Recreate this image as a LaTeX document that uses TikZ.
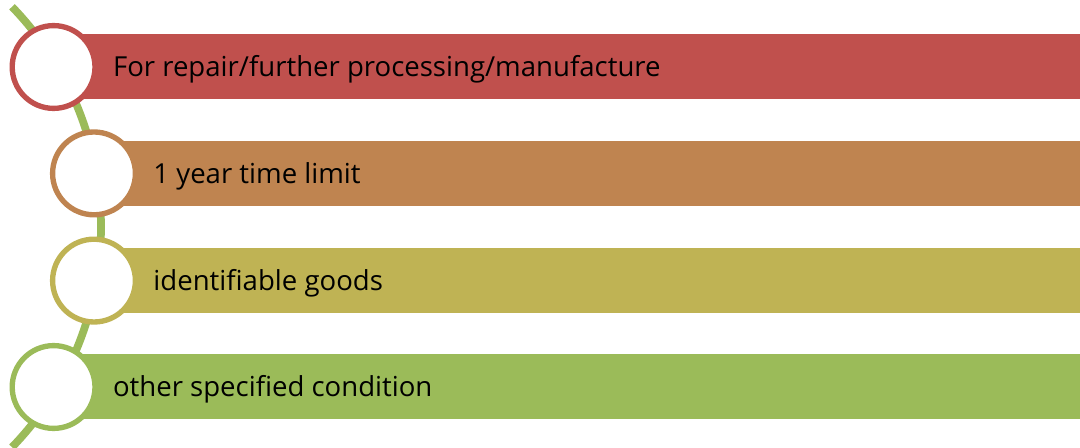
\documentclass[tikz,border=0pt]{standalone}
\usepackage{fontspec}
\setmainfont{Open Sans}
\usepackage{tikz}

\definecolor{redc}{RGB}{192,80,77}
\definecolor{orangec}{RGB}{191,132,80}
\definecolor{olivec}{RGB}{191,179,84}
\definecolor{greenc}{RGB}{155,187,89}

\begin{document}
\begin{tikzpicture}[
            band/.style={rectangle, minimum height=1.625cm, inner sep=0pt, anchor=west}, % coloured bar behind each item
            stage/.style={circle, draw, fill=white, line width=3.8pt, minimum size=2.07cm, inner sep=0pt}, % white circle on the line
            label/.style={anchor=base west, inner sep=0pt, font=\fontsize{19.6}{23}\selectfont} % item text
            ]

        \useasboundingbox (0,0) rectangle (27,11.175);
        \clip (0,0) rectangle (27,11.175);

        % Curved green line running behind all circles
        \coordinate (arctop) at ({-5.4+7.925*cos(44)},{5.5+7.925*sin(44)});
        \draw[greenc, line width=5.5pt] (arctop) arc[start angle=44, end angle=-44, radius=7.925cm];

        % Bars
        \node[band, fill=redc, minimum width=25.66cm] (b1) at (1.34,9.5) {};
        \node[band, fill=orangec, minimum width=24.65cm] (b2) at (2.35,6.84) {};
        \node[band, fill=olivec, minimum width=24.65cm] (b3) at (2.35,4.16) {};
        \node[band, fill=greenc, minimum width=25.66cm] (b4) at (1.34,1.5) {};

        % Circles
        \node[stage, draw=redc] (c1) at (b1.west) {};
        \node[stage, draw=orangec] (c2) at (b2.west) {};
        \node[stage, draw=olivec] (c3) at (b3.west) {};
        \node[stage, draw=greenc] (c4) at (b4.west) {};

        % Texts, baseline a little below the bar middle
        \node[label] (t1) at ([xshift=1.48cm, yshift=-0.25cm]c1.center) {For repair/further processing/manufacture};
        \node[label] (t2) at ([xshift=1.48cm, yshift=-0.25cm]c2.center) {1 year time limit};
        \node[label] (t3) at ([xshift=1.48cm, yshift=-0.25cm]c3.center) {identifiable goods};
        \node[label] (t4) at ([xshift=1.48cm, yshift=-0.25cm]c4.center) {other specified condition};

    \end{tikzpicture}
\end{document}
